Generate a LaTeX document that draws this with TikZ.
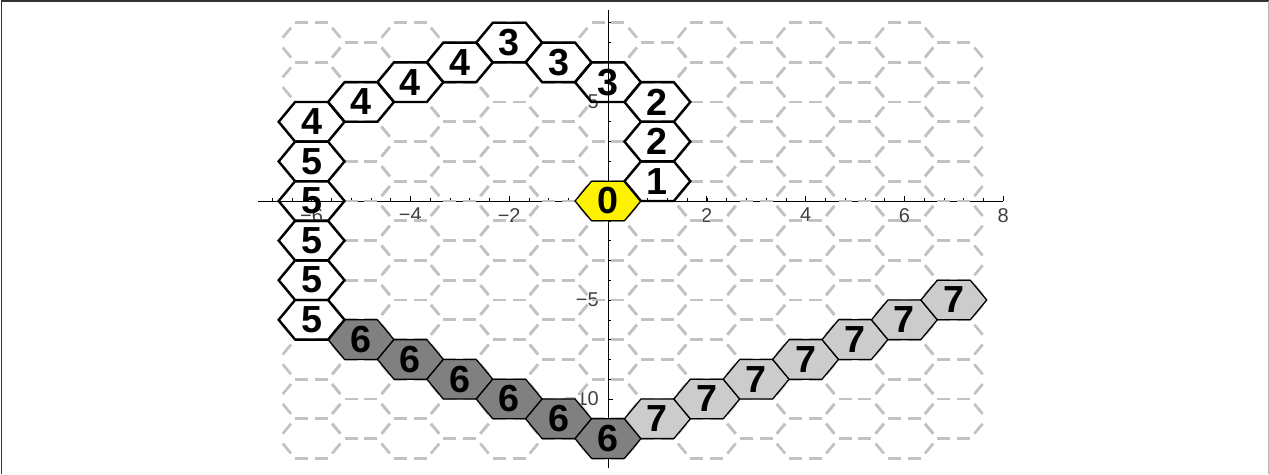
\documentclass[tikz,border=0pt]{standalone}
\usepackage{fontspec}
\setmainfont{Liberation Sans}
\usepackage{xcolor}
\usepackage{tikz}

\newcommand{\hexcell}[3]{%
  \draw[#1] (#2-2/3,#3) -- (#2-1/3,#3+1) -- (#2+1/3,#3+1) -- (#2+2/3,#3) -- (#2+1/3,#3-1) -- (#2-1/3,#3-1) -- cycle;}

\begin{document}
\begin{tikzpicture}[
    x=49.4pt, y=19.8pt,
    axisline/.style={black, line width=0.9pt},
    ticklabel/.style={text=black!75, font=\fontsize{20}{22}\selectfont, inner sep=0pt},
    hedge/.style={draw=black!24, line width=2.7pt, dash pattern=on 13pt off 6.93pt on 13pt off 40pt},
    dedge/.style={draw=black!24, line width=2.7pt, dash pattern=on 13pt off 12.75pt, dash phase=19.375pt},
    pathcell/.style={draw=black, line width=2.4pt},
    startcell/.style={draw=black, line width=1.3pt, fill=yellow},
    darkcell/.style={draw=black, line width=1.3pt, fill=black!50},
    lightcell/.style={draw=black, line width=1.3pt, fill=black!20},
    num/.style={font=\fontsize{37.7}{40}\selectfont\bfseries, inner sep=0pt}
]
\useasboundingbox (-608pt,-273pt) rectangle (661pt,201pt);

% Frame
\draw[black!80, line width=1.5pt] (-606.5pt,-273pt) -- (-606.5pt,200pt) -- (660.5pt,200pt);
\draw[black!30, line width=0.8pt] (660.5pt,200pt) -- (660.5pt,-273pt);

% Axes
\draw[axisline] (-7.08,0) -- (8,0);
\draw[axisline] (0,-13.5) -- (0,9.65);
\foreach \t in {-6.8,-6.4,...,7.7}
  \draw[axisline, line width=0.6pt] (\t,0) -- ++(0,3pt);
\foreach \t in {-6,-4,...,8}
  \draw[axisline] (\t,0) -- ++(0,5pt);
\foreach \t in {-13,...,9}
  \draw[axisline, line width=0.6pt] (0,\t) -- ++(3pt,0);
\foreach \t in {-10,-5,5}
  \draw[axisline] (0,\t) -- ++(5pt,0);
\foreach \t/\lab [count=\k] in {-6/−6,-4/−4,-2/−2,2/2,4/4,6/6,8/8}
  \node[ticklabel, anchor=north] (xlab\k) at ([yshift=-7pt]\t,0) {\lab};
\foreach \t/\lab [count=\k] in {5/5,-5/−5,-10/−10}
  \node[ticklabel, anchor=east] (ylab\k) at ([xshift=-9pt]0,\t) {\lab};

% Hex grid
\foreach \i in {-6,...,7}
  \foreach \j in {-12,...,8}
  {
    \ifodd\numexpr\i+\j\relax\else
      \draw[hedge] (\i-1/3,\j+1) -- (\i+1/3,\j+1);
      \draw[hedge] (\i-1/3,\j-1) -- (\i+1/3,\j-1);
      \draw[dedge] (\i-2/3,\j) -- (\i-1/3,\j+1);
      \draw[dedge] (\i-2/3,\j) -- (\i-1/3,\j-1);
      \draw[dedge] (\i+1/3,\j+1) -- (\i+2/3,\j);
      \draw[dedge] (\i+1/3,\j-1) -- (\i+2/3,\j);
    \fi
  }

% Cells
\hexcell{startcell}{0}{0}
\foreach \cx/\cy in {-5/-7,-4/-8,-3/-9,-2/-10,-1/-11,0/-12}
  {\hexcell{darkcell}{\cx}{\cy}}
\foreach \cx/\cy in {1/-11,2/-10,3/-9,4/-8,5/-7,6/-6,7/-5}
  {\hexcell{lightcell}{\cx}{\cy}}
\foreach \cx/\cy in {1/1,1/3,1/5,0/6,-1/7,-2/8,-3/7,-4/6,-5/5,-6/4,-6/2,-6/0,-6/-2,-6/-4,-6/-6}
  {\hexcell{pathcell}{\cx}{\cy}}

% Numbers
\foreach \cx/\cy/\lab [count=\k] in {0/0/0, 1/1/1, 1/3/2, 1/5/2, 0/6/3, -1/7/3, -2/8/3,
    -3/7/4, -4/6/4, -5/5/4, -6/4/4, -6/2/5, -6/0/5, -6/-2/5, -6/-4/5, -6/-6/5,
    -5/-7/6, -4/-8/6, -3/-9/6, -2/-10/6, -1/-11/6, 0/-12/6,
    1/-11/7, 2/-10/7, 3/-9/7, 4/-8/7, 5/-7/7, 6/-6/7, 7/-5/7}
  \node[num] (cell\k) at (\cx,\cy) {\lab};

\end{tikzpicture}
\end{document}
